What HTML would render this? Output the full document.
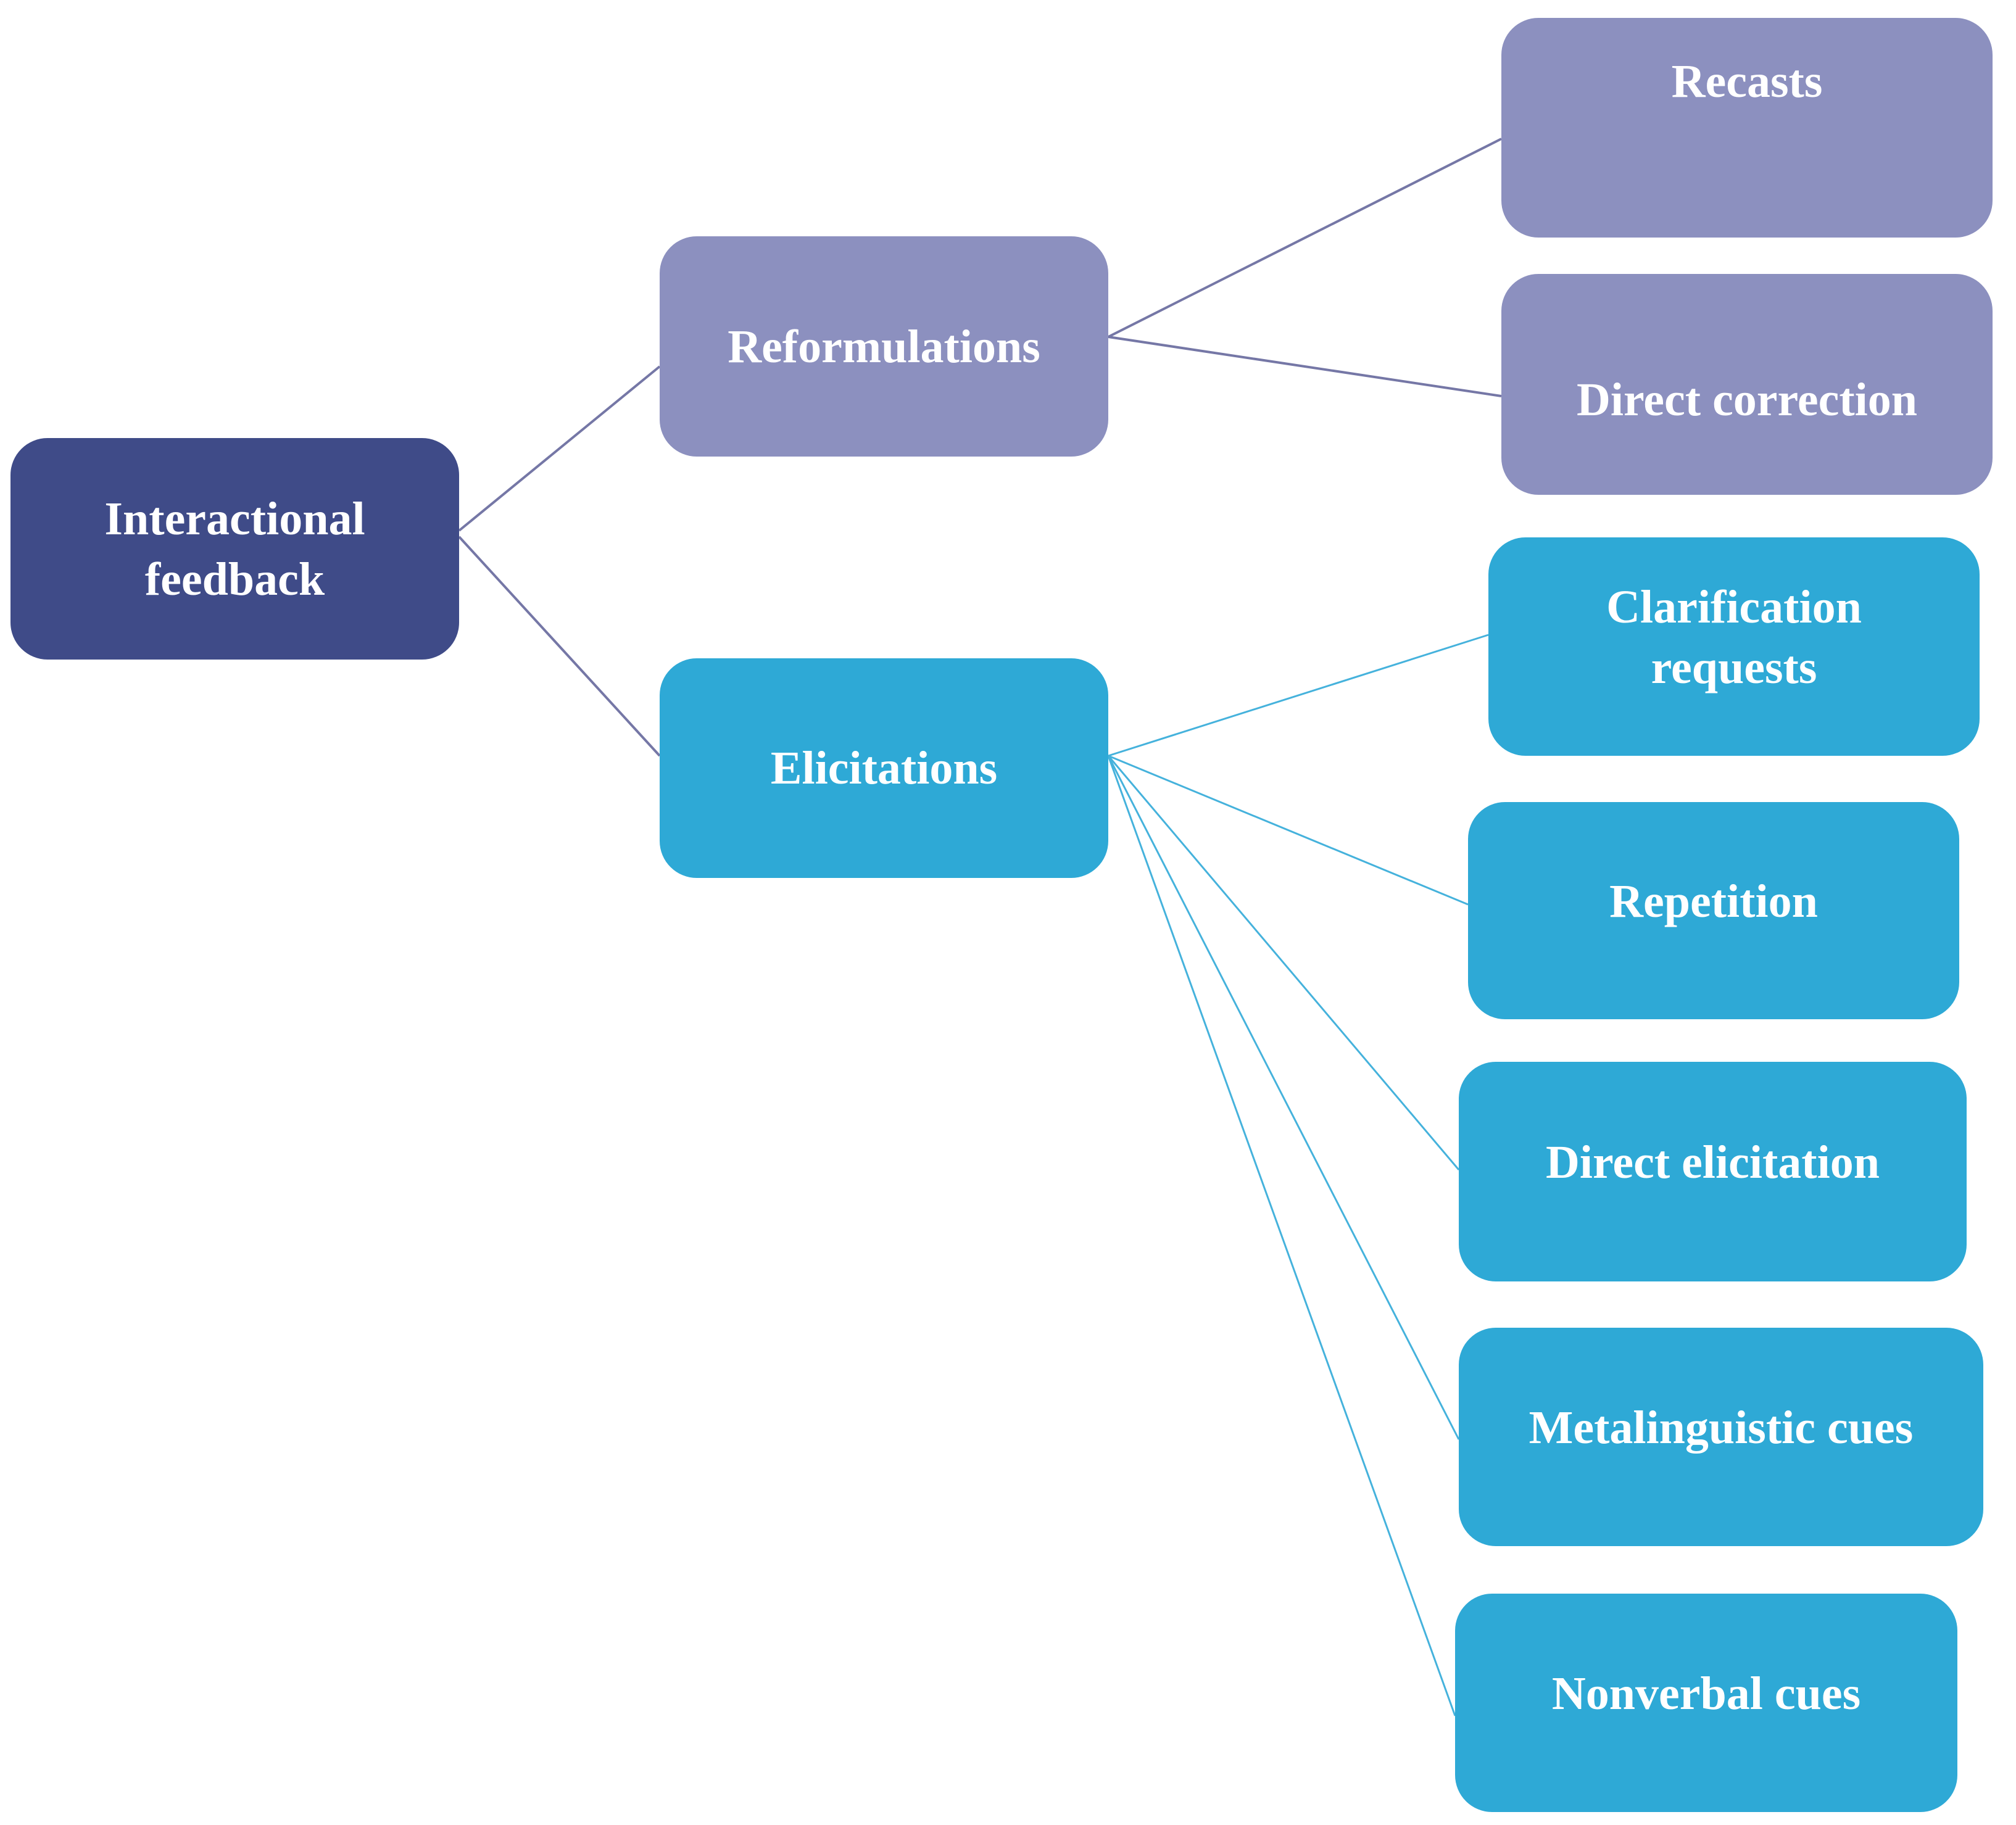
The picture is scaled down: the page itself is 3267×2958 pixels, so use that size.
<!DOCTYPE html>
<html><head><meta charset="utf-8"><style>
body{margin:0;width:3267px;height:2958px;background:#fff;position:relative;overflow:hidden;font-family:"Liberation Serif",serif;}
.b{position:absolute;border-radius:60px;color:#fff;font-weight:bold;font-size:76px;line-height:98px;display:flex;align-items:center;justify-content:center;text-align:center;box-sizing:border-box;}
.d{background:#3f4b88}
.p{background:#8c90bf}
.c{background:#2ea9d6}
svg{position:absolute;left:0;top:0}
</style></head><body>
<svg width="3267" height="2958">
<g stroke="#7577a6" stroke-width="4" fill="none">
<line x1="744" y1="860" x2="1069" y2="594"/>
<line x1="744" y1="870" x2="1069" y2="1225"/>
<line x1="1796" y1="546" x2="2433" y2="225"/>
<line x1="1796" y1="546" x2="2433" y2="642"/>
</g>
<g stroke="#45b2dc" stroke-width="3" fill="none">
<line x1="1796" y1="1225" x2="2412" y2="1029"/>
<line x1="1796" y1="1225" x2="2379" y2="1466"/>
<line x1="1796" y1="1225" x2="2364" y2="1896"/>
<line x1="1796" y1="1225" x2="2364" y2="2333"/>
<line x1="1796" y1="1225" x2="2358" y2="2781"/>
</g>
</svg>
<div class="b d" style="left:17px;top:710px;width:727px;height:359px">Interactional<br>feedback</div>
<div class="b p" style="left:1069px;top:383px;width:727px;height:357px">Reformulations</div>
<div class="b c" style="left:1069px;top:1067px;width:727px;height:356px">Elicitations</div>
<div class="b p" style="left:2433px;top:29px;width:796px;height:356px;padding-bottom:150px">Recasts</div>
<div class="b p" style="left:2433px;top:444px;width:796px;height:358px;padding-top:50px">Direct correction</div>
<div class="b c" style="left:2412px;top:871px;width:796px;height:354px;padding-bottom:30px">Clarification<br>requests</div>
<div class="b c" style="left:2379px;top:1300px;width:796px;height:352px;padding-bottom:30px">Repetition</div>
<div class="b c" style="left:2364px;top:1721px;width:823px;height:356px;padding-bottom:30px">Direct elicitation</div>
<div class="b c" style="left:2364px;top:2152px;width:850px;height:354px;padding-bottom:30px">Metalinguistic cues</div>
<div class="b c" style="left:2358px;top:2583px;width:814px;height:354px;padding-bottom:30px">Nonverbal cues</div>
</body></html>
